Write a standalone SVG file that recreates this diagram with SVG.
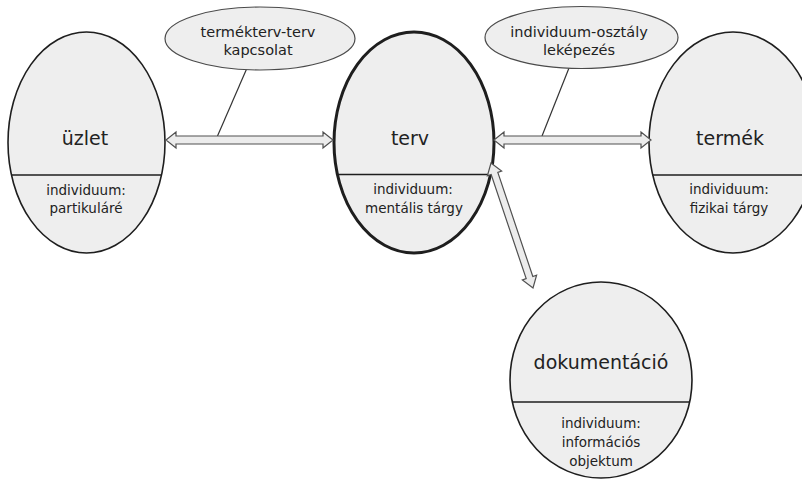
<svg xmlns="http://www.w3.org/2000/svg" width="802" height="479" viewBox="0 0 802 479">
<style>
.node{fill:#eeeeee;stroke:#1e1e1e;stroke-width:1.6}
.bold{stroke-width:3}
.div{stroke:#1e1e1e;stroke-width:1.4}
.lbl{fill:#eeeeee;stroke:#4a4a4a;stroke-width:1.2}
.arrow{fill:#ececec;stroke:#505050;stroke-width:1.2;stroke-linejoin:miter}
.lead{stroke:#333;stroke-width:1.2;fill:none}
text{font-family:"DejaVu Sans","Liberation Sans",sans-serif;fill:#222;text-anchor:middle}
.t{font-size:19px}
.s{font-size:13.5px}
.l{font-size:14.5px}
</style>
<rect width="802" height="479" fill="#ffffff"/>
<g id="uzlet">
<ellipse class="node" cx="86.5" cy="142.5" rx="78.5" ry="110.5"/>
<line class="div" x1="11.5" y1="175" x2="161.5" y2="175"/>
<text class="t" x="85" y="145">üzlet</text>
<text class="s" x="86" y="195">individuum:</text>
<text class="s" x="86" y="213">partikuláré</text>
</g>
<g id="terv">
<ellipse class="node bold" cx="414" cy="142.5" rx="80" ry="110.5"/>
<line class="div" x1="337.5" y1="174.5" x2="490.5" y2="174.5"/>
<text class="t" x="410" y="145">terv</text>
<text class="s" x="413" y="194">individuum:</text>
<text class="s" x="414" y="213">mentális tárgy</text>
</g>
<g id="termek">
<ellipse class="node" cx="733" cy="142.5" rx="84" ry="110.5"/>
<line class="div" x1="652.7" y1="175" x2="813" y2="175"/>
<text class="t" x="730" y="145">termék</text>
<text class="s" x="729" y="194">individuum:</text>
<text class="s" x="729" y="213">fizikai tárgy</text>
</g>
<g id="dokumentacio">
<ellipse class="node" cx="601" cy="380" rx="91" ry="98"/>
<line class="div" x1="512.3" y1="402" x2="689.7" y2="402"/>
<text class="t" x="601" y="369">dokumentáció</text>
<text class="s" x="601" y="428">individuum:</text>
<text class="s" x="601" y="447">információs</text>
<text class="s" x="601" y="466">objektum</text>
</g>
<g id="connectors">
<line class="lead" x1="247" y1="68" x2="217.5" y2="136"/>
<line class="lead" x1="569" y1="68" x2="542" y2="136"/>
<polygon class="arrow" points="166,140 176,132 176,136 323,136 323,132 333,140 323,148 323,144 176,144 176,148"/>
<polygon class="arrow" points="494,140 504,132 504,136 641,136 641,132 651,140 641,148 641,144 504,144 504,148"/>
<polygon class="arrow" points="491,163 487.39,175.82 491.18,174.54 526.18,278.68 522.39,279.96 533,288 536.61,275.18 532.82,276.46 497.82,172.32 501.61,171.04"/>
</g>
<g id="label-termekterv">
<ellipse class="lbl" cx="260" cy="38.5" rx="95" ry="31.5"/>
<text class="l" x="258" y="37">termékterv-terv</text>
<text class="l" x="258" y="55">kapcsolat</text>
</g>
<g id="label-individuum">
<ellipse class="lbl" cx="581.5" cy="37.5" rx="96.5" ry="31"/>
<text class="l" x="579" y="37">individuum-osztály</text>
<text class="l" x="579" y="55">leképezés</text>
</g>
</svg>
